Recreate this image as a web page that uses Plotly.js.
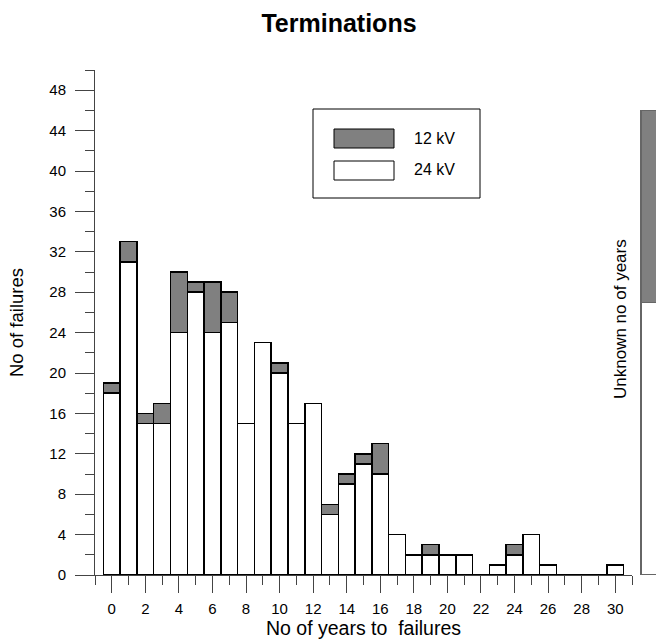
<!DOCTYPE html>
<html>
<head>
<meta charset="utf-8">
<script src="https://cdn.plot.ly/plotly-3.0.1.min.js"></script>
<style>html,body{margin:0;padding:0;background:#fff;}#chart{width:656px;height:640px;}</style>
</head>
<body>
<div id="chart"></div>
<script>
// ---- data ----
const years = [0,1,2,3,4,5,6,7,8,9,10,11,12,13,14,15,16,17,18,19,20,21,22,23,24,25,26,27,28,29,30];
const kv24  = [18,31,15,15,24,28,24,25,15,23,20,15,17,6,9,11,10,4,2,2,2,2,0,1,2,4,1,0,0,0,1];
const kv12  = [1,2,1,2,6,1,5,3,0,0,1,0,0,1,1,1,3,0,0,1,0,0,0,0,1,0,0,0,0,0,0];
const unknownLabel = ['Unknown'];
const unknown24 = [27];
const unknown12 = [19];
const xTickVals = [0,2,4,6,8,10,12,14,16,18,20,22,24,26,28,30];
const yTickVals = [0,4,8,12,16,20,24,28,32,36,40,44,48];
const seriesNames = ['12 kV','24 kV'];

// ---- layout helpers ----
const L = 95, R = 656, T = 70, B = 575;
const px = v => (v - L) / (R - L);
const py = v => (B - v) / (B - T);
const font = 'Liberation Sans, Arial, sans-serif';
const gray = '#808080';

const traces = [
  {type:'bar', x: years, y: kv24, name: seriesNames[1], xaxis:'x', yaxis:'y',
   width: 1, marker:{color:'#ffffff', line:{color:'#000', width:1.5}}, hoverinfo:'skip'},
  {type:'bar', x: years, y: kv12, name: seriesNames[0], xaxis:'x', yaxis:'y',
   width: 1, marker:{color:gray, line:{color:'#000', width:1.5}}, hoverinfo:'skip'},
  {type:'bar', x: [0], y: unknown24, name: unknownLabel[0], xaxis:'x2', yaxis:'y',
   width: 1, marker:{color:'#ffffff', line:{color:'#666', width:1.5}}, hoverinfo:'skip'},
  {type:'bar', x: [0], y: unknown12, name: unknownLabel[0], xaxis:'x2', yaxis:'y',
   width: 1, marker:{color:gray, line:{color:'#666', width:1.5}}, hoverinfo:'skip'}
];

const layout = {
  width: 656, height: 640,
  margin: {l: L, r: 656 - R, t: T, b: 640 - B, pad: 0},
  paper_bgcolor: '#fff', plot_bgcolor: '#fff',
  showlegend: false,
  barmode: 'stack', bargap: 0,
  font: {family: font, color: '#000', size: 16},
  title: {text: '<b>Terminations</b>', x: 339/656, xanchor: 'center', xref: 'container',
          y: 1 - 23/640, yanchor: 'middle', yref: 'container', font: {size: 25, family: font, color:'#000'}},
  xaxis: {
    domain: [0, px(632)], range: [-1, 31], anchor: 'y',
    showgrid: false, zeroline: false, showline: true, linecolor: '#444', linewidth: 1,
    tickmode: 'array', tickvals: xTickVals, ticktext: xTickVals.map(String),
    ticks: 'outside', ticklen: 17, tickcolor: '#444', tickwidth: 1, ticklabelstandoff: 3,
    minor: {dtick: 1, tick0: 0, ticks: 'outside', ticklen: 9, tickcolor: '#444', tickwidth: 1, showgrid: false},
    tickfont: {size: 15, family: font, color: '#000'},
    title: {text: 'No of years to  failures', font: {size: 19.5, family: font, color:'#000'}, standoff: 1}
  },
  xaxis2: {
    domain: [px(640), 1], range: [-0.54, 0.3], anchor: 'y',
    showgrid: false, zeroline: false, showline: false, showticklabels: false, ticks: ''
  },
  yaxis: {
    range: [0, 50], anchor: 'x',
    showgrid: false, zeroline: false, showline: true, linecolor: '#444', linewidth: 1,
    tickmode: 'array', tickvals: yTickVals, ticktext: yTickVals.map(String),
    ticks: 'outside', ticklen: 19, tickcolor: '#444', tickwidth: 1, ticklabelstandoff: 6,
    minor: {dtick: 2, tick0: 0, ticks: 'outside', ticklen: 9, tickcolor: '#444', tickwidth: 1, showgrid: false},
    tickfont: {size: 15, family: font, color: '#000'},
    title: {text: 'No of failures', font: {size: 18.5, family: font, color:'#000'}, standoff: 20}
  },
  shapes: [
    {type:'rect', xref:'paper', yref:'paper', x0: px(313), x1: px(480), y0: py(198), y1: py(109),
     line:{color:'#000', width:1}, fillcolor:'rgba(0,0,0,0)'},
    {type:'rect', xref:'paper', yref:'paper', x0: px(334), x1: px(394), y0: py(148), y1: py(129),
     line:{color:'#000', width:1}, fillcolor: gray},
    {type:'rect', xref:'paper', yref:'paper', x0: px(334), x1: px(394), y0: py(180), y1: py(161),
     line:{color:'#000', width:1}, fillcolor: '#fff'}
  ],
  annotations: [
    {xref:'paper', yref:'paper', x: px(412), y: py(138), xanchor:'left', yanchor:'middle',
     text: seriesNames[0], showarrow:false, font:{size:16, family:font, color:'#000'}},
    {xref:'paper', yref:'paper', x: px(412), y: py(170), xanchor:'left', yanchor:'middle',
     text: seriesNames[1], showarrow:false, font:{size:16, family:font, color:'#000'}},
    {xref:'paper', yref:'paper', x: px(620), y: py(319), xanchor:'center', yanchor:'middle',
     text: 'Unknown no of years', textangle: -90, showarrow:false, font:{size:17, family:font, color:'#000'}}
  ]
};

Plotly.newPlot('chart', traces, layout, {staticPlot: true, displayModeBar: false});
</script>
</body>
</html>
